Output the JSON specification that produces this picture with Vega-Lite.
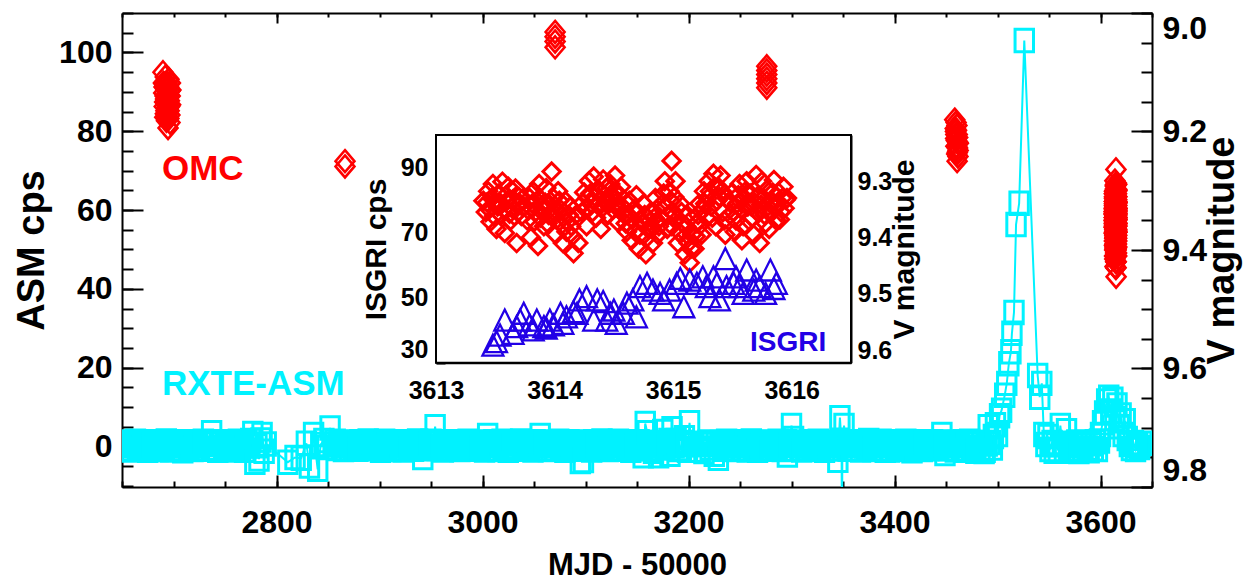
{
  "$schema": "https://vega.github.io/schema/vega-lite/v6.json",
  "width": 1030,
  "height": 474,
  "autosize": {"type": "none"},
  "padding": {"left": 122, "top": 13, "right": 103, "bottom": 93},
  "background": "white",
  "config": {
    "view": {"stroke": null},
    "axis": {"domainColor": "black", "tickColor": "black", "labelColor": "black", "titleColor": "black", "domainWidth": 2, "tickWidth": 2, "grid": false, "zindex": 1, "labelFont": "Liberation Sans", "labelFontWeight": "bold", "titleFont": "Liberation Sans", "titleFontWeight": "bold", "labelOverlap": false, "labelFlush": false}
  },
  "data": {
    "format": {"type": "csv"},
    "values": "mjd,cps\n2651,0.4\n2653,-0.6\n2655,1.1\n2657,0.2\n2659,-0.9\n2661,0.8\n2663,1.3\n2665,-0.3\n2667,0.5\n2669,-0.7\n2671,0.9\n2673,0.0\n2675,-1.0\n2677,1.2\n2679,0.3\n2681,-0.5\n2683,0.7\n2685,-0.8\n2687,1.0\n2689,0.2\n2691,-0.4\n2693,1.4\n2695,0.6\n2697,-0.9\n2699,0.1\n2701,0.9\n2703,-0.6\n2705,1.1\n2707,0.3\n2709,-1.1\n2711,0.7\n2713,1.2\n2715,-0.2\n2717,0.4\n2719,-0.8\n2721,1.0\n2723,0.1\n2725,-0.5\n2727,0.8\n2729,1.3\n2731,-0.7\n2733,0.5\n2735,1.0\n2737,3.5\n2739,-0.4\n2741,0.9\n2743,-1.0\n2745,0.6\n2747,1.2\n2749,-0.3\n2751,0.2\n2753,-0.9\n2755,1.1\n2757,0.4\n2759,-0.6\n2761,0.8\n2763,1.3\n2765,-0.2\n2767,0.5\n2769,-1.0\n2771,0.9\n2773,0.1\n2775,1.5\n2777,3.3\n2779,-4.0\n2781,0.2\n2783,-3.2\n2785,1.6\n2786,3.0\n2788,-1.2\n2790,0.6\n2811,-4.0\n2818,-2.8\n2824,-3.0\n2829,0.8\n2832,-5.0\n2836,3.0\n2840,-5.8\n2843,0.5\n2846,1.5\n2849,-0.3\n2852,4.7\n2855,0.6\n2857,1.3\n2859,-0.5\n2861,0.9\n2863,0.2\n2865,-0.8\n2867,1.1\n2869,0.4\n2871,-0.6\n2873,1.0\n2875,0.0\n2877,0.7\n2879,-0.7\n2881,1.2\n2883,0.3\n2885,-0.4\n2887,0.9\n2889,1.4\n2891,-0.6\n2893,0.5\n2895,1.1\n2897,-0.2\n2899,0.6\n2901,-1.0\n2903,0.8\n2905,1.3\n2907,-0.3\n2909,0.2\n2911,-0.8\n2913,1.0\n2915,0.4\n2917,-0.5\n2919,1.2\n2921,0.1\n2923,-0.9\n2925,0.7\n2927,1.1\n2929,-0.4\n2931,0.3\n2933,-0.7\n2935,0.9\n2937,1.4\n2939,-0.2\n2941,0.5\n2942,-2.8\n2944,1.0\n2946,-0.6\n2948,0.8\n2950,1.3\n2952,0.0\n2954,5.0\n2956,-0.5\n2958,0.9\n2960,0.1\n2962,-0.9\n2964,1.1\n2966,0.4\n2968,-0.6\n2970,1.2\n2972,0.2\n2974,-0.3\n2976,0.9\n2978,-0.8\n2980,1.0\n2982,0.3\n2984,-0.5\n2986,1.3\n2988,0.6\n2990,-0.7\n2992,0.8\n2994,0.0\n2996,1.1\n2998,-0.4\n3000,0.5\n3002,-0.9\n3004,1.0\n3005,2.8\n3007,0.2\n3009,-0.6\n3011,1.2\n3013,0.4\n3015,-0.8\n3017,0.9\n3019,1.3\n3021,-0.2\n3023,0.6\n3025,-1.0\n3027,0.7\n3029,1.1\n3031,0.0\n3033,-0.5\n3035,0.8\n3037,1.4\n3039,-0.7\n3041,0.3\n3043,1.0\n3045,-0.4\n3047,0.5\n3049,-0.9\n3051,1.2\n3053,0.1\n3055,0.7\n3056,2.8\n3058,-0.6\n3060,1.0\n3062,0.3\n3064,-0.8\n3066,1.1\n3068,0.4\n3070,-0.5\n3072,0.9\n3074,1.3\n3076,-0.3\n3078,0.2\n3080,-1.0\n3082,0.8\n3084,1.2\n3086,-0.1\n3088,0.5\n3090,-0.7\n3092,1.0\n3094,0.3\n3095,-3.8\n3097,0.7\n3098,-3.6\n3100,1.1\n3102,-0.4\n3104,0.6\n3106,-0.9\n3108,1.2\n3110,0.2\n3112,-0.6\n3114,0.9\n3116,1.4\n3118,-0.3\n3120,0.4\n3122,-0.8\n3124,1.0\n3126,0.1\n3128,-0.5\n3130,0.8\n3132,1.3\n3134,-0.7\n3136,0.5\n3138,1.1\n3140,-0.2\n3142,0.6\n3144,-1.0\n3146,0.9\n3148,0.3\n3150,-0.6\n3152,1.2\n3154,0.0\n3156,-2.4\n3157,1.0\n3158,5.8\n3160,3.5\n3162,-0.5\n3164,0.7\n3166,-1.2\n3168,1.0\n3170,0.3\n3171,-2.4\n3173,0.9\n3175,3.8\n3177,-0.4\n3179,0.8\n3181,1.5\n3182,-2.0\n3184,4.5\n3186,0.2\n3188,1.5\n3190,-0.8\n3192,-0.5\n3194,1.0\n3196,2.2\n3198,0.4\n3199,-1.0\n3201,6.0\n3203,0.5\n3211,-1.0\n3213,0.8\n3215,-1.3\n3217,0.5\n3219,1.1\n3221,-0.4\n3223,0.9\n3225,-2.0\n3227,0.6\n3229,-3.0\n3231,1.0\n3233,0.2\n3235,-0.7\n3237,1.3\n3239,0.4\n3241,-0.5\n3243,0.9\n3245,-0.8\n3247,1.1\n3249,0.2\n3251,-0.6\n3253,1.2\n3255,0.3\n3257,-0.9\n3259,0.8\n3261,1.4\n3263,-0.2\n3265,0.5\n3267,-1.0\n3269,0.9\n3271,0.1\n3273,-0.5\n3275,1.1\n3277,0.6\n3279,-0.7\n3281,1.0\n3283,0.2\n3285,-0.4\n3287,1.3\n3289,0.4\n3291,-0.8\n3293,0.7\n3295,1.2\n3296,-2.2\n3298,0.3\n3300,5.3\n3302,2.0\n3304,-0.6\n3306,0.9\n3308,0.1\n3310,-0.9\n3312,1.1\n3314,0.4\n3316,-0.5\n3318,1.2\n3320,0.0\n3322,-0.7\n3324,0.8\n3326,1.3\n3328,-0.3\n3330,0.6\n3332,-1.0\n3334,1.0\n3336,0.2\n3338,-0.6\n3340,0.9\n3342,-0.6\n3345,-3.5\n3347,7.3\n3348.6,1.0\n3349,-25\n3349.4,0.5\n3351,5.3\n3353,0.8\n3355,-0.7\n3357,1.1\n3359,0.3\n3361,-0.5\n3363,1.2\n3365,0.4\n3367,-0.9\n3369,0.9\n3371,0.1\n3373,-0.4\n3375,1.5\n3377,0.6\n3379,-0.8\n3381,1.0\n3383,0.2\n3385,-0.6\n3387,1.3\n3389,0.5\n3391,-1.0\n3393,0.7\n3395,-0.9\n3397,1.1\n3399,0.3\n3401,-0.6\n3403,1.2\n3405,0.0\n3407,-0.8\n3409,0.9\n3411,1.3\n3413,-0.4\n3415,0.5\n3417,-1.1\n3419,0.8\n3421,1.2\n3423,-0.2\n3425,0.4\n3427,-0.8\n3429,1.0\n3431,0.1\n3433,-0.6\n3435,0.9\n3437,1.2\n3439,-0.5\n3441,0.6\n3443,-0.3\n3445,1.0\n3446,3.0\n3448,0.2\n3449,-1.8\n3451,0.8\n3453,-0.6\n3455,1.1\n3457,0.3\n3459,-0.9\n3461,1.0\n3463,0.4\n3465,-0.5\n3467,1.2\n3469,-1.0\n3471,0.7\n3473,1.3\n3475,-0.2\n3477,0.5\n3479,-1.2\n3481,0.9\n3483,-0.6\n3485,1.0\n3487,-1.3\n3488,-1.0\n3490,0.6\n3491,5.0\n3493,1.0\n3495,-0.4\n3496,2.5\n3498,5.5\n3500,3.0\n3502,7.8\n3504,9.2\n3507,13.0\n3509,16.0\n3511,21.0\n3513,24.0\n3514,28.7\n3516,34.0\n3518,56.3\n3521,61.7\n3526,103.0\n3539,18.0\n3541,12.5\n3543,16.0\n3545,3.0\n3547,0.5\n3549,2.5\n3551,-0.8\n3553,1.0\n3555,-1.2\n3557,0.4\n3559,-1.0\n3561,5.3\n3563,0.6\n3565,-0.9\n3567,4.0\n3569,0.2\n3571,-1.2\n3573,0.8\n3575,-0.6\n3577,1.1\n3579,-1.3\n3581,0.3\n3583,-0.9\n3585,1.0\n3587,-0.4\n3589,-1.1\n3591,0.7\n3593,-0.6\n3595,1.2\n3597,-0.8\n3599,1.4\n3600,3.0\n3602,6.0\n3604,8.5\n3606,11.5\n3608,12.5\n3610,9.0\n3612,12.0\n3614,7.0\n3616,10.5\n3618,5.0\n3620,8.0\n3622,3.0\n3624,6.5\n3626,2.0\n3628,0.5\n3630,-0.5\n3632,1.0\n3634,-0.8\n3636,0.3\n3638,-0.3\n3640,0.8"
  },
  "datasets": {
    "omc_main": [
      {"mjd":2689.8,"v":9.100},{"mjd":2690.5,"v":9.135},{"mjd":2691.0,"v":9.158},{"mjd":2691.2,"v":9.120},{"mjd":2691.5,"v":9.176},{"mjd":2692.0,"v":9.108},{"mjd":2692.3,"v":9.145},{"mjd":2692.6,"v":9.165},{"mjd":2693.0,"v":9.128},{"mjd":2693.2,"v":9.182},{"mjd":2693.5,"v":9.150},{"mjd":2694.0,"v":9.118},{"mjd":2694.2,"v":9.170},{"mjd":2694.5,"v":9.140},{"mjd":2694.7,"v":9.194},{"mjd":2695.0,"v":9.160},{"mjd":2695.2,"v":9.125},{"mjd":2695.5,"v":9.178},{"mjd":2696.0,"v":9.148},{"mjd":2696.3,"v":9.132},{"mjd":2696.5,"v":9.172},{"mjd":2697.0,"v":9.118},{"mjd":2697.2,"v":9.155},
      {"mjd":2690.8,"v":9.125},{"mjd":2691.8,"v":9.140},{"mjd":2692.8,"v":9.152},{"mjd":2693.8,"v":9.135},{"mjd":2694.8,"v":9.155},{"mjd":2695.8,"v":9.165},{"mjd":2696.8,"v":9.140},{"mjd":2692.4,"v":9.128},{"mjd":2693.4,"v":9.160},{"mjd":2694.4,"v":9.148},{"mjd":2695.4,"v":9.138},{"mjd":2696.2,"v":9.158},{"mjd":2691.4,"v":9.150},{"mjd":2690.2,"v":9.118},{"mjd":2697.5,"v":9.130},{"mjd":2693.6,"v":9.175},{"mjd":2694.6,"v":9.128},{"mjd":2692.1,"v":9.170},{"mjd":2695.6,"v":9.112},{"mjd":2696.6,"v":9.185},
      {"mjd":2866.5,"v":9.250},{"mjd":2866.5,"v":9.259},
      {"mjd":3070.5,"v":9.032},{"mjd":3070.5,"v":9.040},{"mjd":3070.5,"v":9.048},{"mjd":3070.5,"v":9.058},
      {"mjd":3276,"v":9.090},{"mjd":3276,"v":9.097},{"mjd":3276,"v":9.104},{"mjd":3276,"v":9.111},{"mjd":3276,"v":9.118},{"mjd":3276,"v":9.126},
      {"mjd":3458.5,"v":9.180},{"mjd":3459,"v":9.195},{"mjd":3459.5,"v":9.205},{"mjd":3460,"v":9.215},{"mjd":3460.3,"v":9.225},{"mjd":3460.6,"v":9.190},{"mjd":3461,"v":9.235},{"mjd":3461.3,"v":9.210},{"mjd":3461.6,"v":9.242},{"mjd":3462,"v":9.220},{"mjd":3460.8,"v":9.250},{"mjd":3459.8,"v":9.185},{"mjd":3461.2,"v":9.228},
      {"mjd":3459.2,"v":9.200},{"mjd":3460.2,"v":9.198},{"mjd":3460.4,"v":9.238},{"mjd":3461.4,"v":9.218},{"mjd":3459.6,"v":9.225},{"mjd":3460.9,"v":9.205},{"mjd":3461.8,"v":9.232},{"mjd":3459.4,"v":9.212}
    ],
    "omc_inset": [
      {"mjd":3613.40,"v":9.335},{"mjd":3613.42,"v":9.355},{"mjd":3613.44,"v":9.318},{"mjd":3613.46,"v":9.372},{"mjd":3613.48,"v":9.305},{"mjd":3613.50,"v":9.340},{"mjd":3613.51,"v":9.385},{"mjd":3613.53,"v":9.322},{"mjd":3613.55,"v":9.360},{"mjd":3613.56,"v":9.301},{"mjd":3613.58,"v":9.392},{"mjd":3613.60,"v":9.335},{"mjd":3613.61,"v":9.310},{"mjd":3613.63,"v":9.370},{"mjd":3613.64,"v":9.348},{"mjd":3613.67,"v":9.313},{"mjd":3613.68,"v":9.410},{"mjd":3613.70,"v":9.328},{"mjd":3613.72,"v":9.362},{"mjd":3613.74,"v":9.345},
      {"mjd":3613.43,"v":9.338},{"mjd":3613.45,"v":9.350},{"mjd":3613.47,"v":9.330},{"mjd":3613.49,"v":9.362},{"mjd":3613.52,"v":9.345},{"mjd":3613.54,"v":9.338},{"mjd":3613.57,"v":9.350},{"mjd":3613.59,"v":9.325},{"mjd":3613.62,"v":9.358},{"mjd":3613.65,"v":9.332},{"mjd":3613.66,"v":9.362},{"mjd":3613.69,"v":9.345},{"mjd":3613.71,"v":9.340},
      {"mjd":3613.77,"v":9.370},{"mjd":3613.79,"v":9.330},{"mjd":3613.80,"v":9.400},{"mjd":3613.82,"v":9.318},{"mjd":3613.84,"v":9.355},{"mjd":3613.86,"v":9.415},{"mjd":3613.87,"v":9.305},{"mjd":3613.89,"v":9.345},{"mjd":3613.91,"v":9.380},{"mjd":3613.93,"v":9.312},{"mjd":3613.95,"v":9.360},{"mjd":3613.975,"v":9.283},{"mjd":3613.99,"v":9.330},{"mjd":3614.01,"v":9.395},{"mjd":3614.03,"v":9.318},{"mjd":3614.05,"v":9.350},{"mjd":3614.07,"v":9.410},{"mjd":3614.09,"v":9.335},{"mjd":3614.11,"v":9.372},{"mjd":3614.13,"v":9.345},{"mjd":3614.15,"v":9.398},{"mjd":3614.16,"v":9.428},{"mjd":3614.18,"v":9.360},{"mjd":3614.20,"v":9.410},
      {"mjd":3613.78,"v":9.352},{"mjd":3613.81,"v":9.340},{"mjd":3613.83,"v":9.372},{"mjd":3613.85,"v":9.335},{"mjd":3613.88,"v":9.365},{"mjd":3613.90,"v":9.350},{"mjd":3613.92,"v":9.338},{"mjd":3613.94,"v":9.375},{"mjd":3613.96,"v":9.342},{"mjd":3613.98,"v":9.360},{"mjd":3614.00,"v":9.350},{"mjd":3614.02,"v":9.368},{"mjd":3614.04,"v":9.335},{"mjd":3614.06,"v":9.378},{"mjd":3614.08,"v":9.355},{"mjd":3614.10,"v":9.390},{"mjd":3614.12,"v":9.360},{"mjd":3614.14,"v":9.380},
      {"mjd":3614.23,"v":9.355},{"mjd":3614.25,"v":9.320},{"mjd":3614.27,"v":9.380},{"mjd":3614.29,"v":9.300},{"mjd":3614.31,"v":9.340},{"mjd":3614.33,"v":9.292},{"mjd":3614.35,"v":9.365},{"mjd":3614.37,"v":9.315},{"mjd":3614.39,"v":9.385},{"mjd":3614.41,"v":9.297},{"mjd":3614.43,"v":9.338},{"mjd":3614.45,"v":9.360},{"mjd":3614.47,"v":9.305},{"mjd":3614.49,"v":9.350},{"mjd":3614.51,"v":9.290},{"mjd":3614.53,"v":9.372},{"mjd":3614.55,"v":9.325},{"mjd":3614.57,"v":9.345},
      {"mjd":3614.24,"v":9.338},{"mjd":3614.26,"v":9.350},{"mjd":3614.28,"v":9.330},{"mjd":3614.30,"v":9.322},{"mjd":3614.32,"v":9.355},{"mjd":3614.34,"v":9.328},{"mjd":3614.36,"v":9.342},{"mjd":3614.38,"v":9.318},{"mjd":3614.40,"v":9.348},{"mjd":3614.42,"v":9.325},{"mjd":3614.44,"v":9.312},{"mjd":3614.46,"v":9.340},{"mjd":3614.48,"v":9.328},{"mjd":3614.50,"v":9.318},{"mjd":3614.52,"v":9.338},{"mjd":3614.54,"v":9.350},{"mjd":3614.56,"v":9.310},
      {"mjd":3614.59,"v":9.360},{"mjd":3614.61,"v":9.390},{"mjd":3614.63,"v":9.335},{"mjd":3614.65,"v":9.405},{"mjd":3614.67,"v":9.350},{"mjd":3614.69,"v":9.325},{"mjd":3614.71,"v":9.420},{"mjd":3614.73,"v":9.370},{"mjd":3614.75,"v":9.340},{"mjd":3614.77,"v":9.430},{"mjd":3614.79,"v":9.385},{"mjd":3614.81,"v":9.355},{"mjd":3614.83,"v":9.410},{"mjd":3614.85,"v":9.330},{"mjd":3614.87,"v":9.395},{"mjd":3614.89,"v":9.365},
      {"mjd":3614.60,"v":9.375},{"mjd":3614.62,"v":9.360},{"mjd":3614.64,"v":9.380},{"mjd":3614.66,"v":9.368},{"mjd":3614.68,"v":9.390},{"mjd":3614.70,"v":9.355},{"mjd":3614.72,"v":9.395},{"mjd":3614.74,"v":9.375},{"mjd":3614.76,"v":9.360},{"mjd":3614.78,"v":9.400},{"mjd":3614.80,"v":9.372},{"mjd":3614.82,"v":9.385},{"mjd":3614.84,"v":9.365},{"mjd":3614.86,"v":9.350},{"mjd":3614.88,"v":9.380},
      {"mjd":3614.91,"v":9.340},{"mjd":3614.93,"v":9.300},{"mjd":3614.95,"v":9.385},{"mjd":3614.97,"v":9.318},{"mjd":3614.987,"v":9.264},{"mjd":3615.00,"v":9.355},{"mjd":3615.02,"v":9.300},{"mjd":3615.04,"v":9.410},{"mjd":3615.06,"v":9.340},{"mjd":3615.08,"v":9.375},{"mjd":3615.10,"v":9.430},{"mjd":3615.12,"v":9.360},{"mjd":3615.14,"v":9.445},{"mjd":3615.16,"v":9.395},
      {"mjd":3614.92,"v":9.322},{"mjd":3614.94,"v":9.345},{"mjd":3614.96,"v":9.360},{"mjd":3614.98,"v":9.335},{"mjd":3614.99,"v":9.380},{"mjd":3615.01,"v":9.328},{"mjd":3615.03,"v":9.368},{"mjd":3615.05,"v":9.390},{"mjd":3615.07,"v":9.355},{"mjd":3615.09,"v":9.400},{"mjd":3615.11,"v":9.380},{"mjd":3615.13,"v":9.410},{"mjd":3615.15,"v":9.420},
      {"mjd":3615.18,"v":9.420},{"mjd":3615.20,"v":9.375},{"mjd":3615.22,"v":9.340},{"mjd":3615.24,"v":9.395},{"mjd":3615.26,"v":9.318},{"mjd":3615.28,"v":9.365},{"mjd":3615.30,"v":9.300},{"mjd":3615.32,"v":9.345},{"mjd":3615.34,"v":9.287},{"mjd":3615.36,"v":9.380},{"mjd":3615.38,"v":9.310},{"mjd":3615.40,"v":9.290},{"mjd":3615.42,"v":9.355},{"mjd":3615.44,"v":9.395},{"mjd":3615.45,"v":9.330},
      {"mjd":3615.19,"v":9.398},{"mjd":3615.21,"v":9.360},{"mjd":3615.23,"v":9.378},{"mjd":3615.25,"v":9.350},{"mjd":3615.27,"v":9.340},{"mjd":3615.29,"v":9.330},{"mjd":3615.31,"v":9.318},{"mjd":3615.33,"v":9.365},{"mjd":3615.35,"v":9.310},{"mjd":3615.37,"v":9.335},{"mjd":3615.39,"v":9.328},{"mjd":3615.41,"v":9.318},{"mjd":3615.43,"v":9.370},
      {"mjd":3615.48,"v":9.360},{"mjd":3615.50,"v":9.320},{"mjd":3615.52,"v":9.390},{"mjd":3615.54,"v":9.340},{"mjd":3615.56,"v":9.305},{"mjd":3615.58,"v":9.405},{"mjd":3615.60,"v":9.330},{"mjd":3615.62,"v":9.300},{"mjd":3615.64,"v":9.370},{"mjd":3615.66,"v":9.345},{"mjd":3615.68,"v":9.395},{"mjd":3615.70,"v":9.289},{"mjd":3615.72,"v":9.325},{"mjd":3615.73,"v":9.410},{"mjd":3615.75,"v":9.300},{"mjd":3615.77,"v":9.360},{"mjd":3615.79,"v":9.315},{"mjd":3615.81,"v":9.385},{"mjd":3615.83,"v":9.335},{"mjd":3615.85,"v":9.298},{"mjd":3615.87,"v":9.370},{"mjd":3615.89,"v":9.320},{"mjd":3615.91,"v":9.355},{"mjd":3615.93,"v":9.310},{"mjd":3615.95,"v":9.333},
      {"mjd":3615.49,"v":9.340},{"mjd":3615.51,"v":9.355},{"mjd":3615.53,"v":9.370},{"mjd":3615.55,"v":9.325},{"mjd":3615.57,"v":9.350},{"mjd":3615.59,"v":9.380},{"mjd":3615.61,"v":9.318},{"mjd":3615.63,"v":9.345},{"mjd":3615.65,"v":9.322},{"mjd":3615.67,"v":9.365},{"mjd":3615.69,"v":9.338},{"mjd":3615.71,"v":9.355},{"mjd":3615.74,"v":9.342},{"mjd":3615.76,"v":9.330},{"mjd":3615.78,"v":9.375},{"mjd":3615.80,"v":9.345},{"mjd":3615.82,"v":9.358},{"mjd":3615.84,"v":9.320},{"mjd":3615.86,"v":9.348},{"mjd":3615.88,"v":9.338},{"mjd":3615.90,"v":9.368},{"mjd":3615.92,"v":9.330},{"mjd":3615.94,"v":9.348},{"mjd":3615.96,"v":9.330}
    ],
    "isgri": [
      {"mjd":3613.48,"cps":35.4},{"mjd":3613.51,"cps":36.5},{"mjd":3613.54,"cps":38.5},{"mjd":3613.58,"cps":43.1},{"mjd":3613.65,"cps":39.0},{"mjd":3613.68,"cps":41.1},{"mjd":3613.71,"cps":43.1},{"mjd":3613.74,"cps":45.2},{"mjd":3613.79,"cps":41.6},{"mjd":3613.82,"cps":40.1},{"mjd":3613.85,"cps":43.1},{"mjd":3613.91,"cps":41.1},{"mjd":3613.93,"cps":40.6},{"mjd":3613.96,"cps":43.1},{"mjd":3613.99,"cps":41.6},{"mjd":3614.05,"cps":45.2},{"mjd":3614.07,"cps":42.1},{"mjd":3614.10,"cps":44.1},{"mjd":3614.16,"cps":45.7},{"mjd":3614.19,"cps":45.2},{"mjd":3614.21,"cps":49.3},{"mjd":3614.27,"cps":50.3},{"mjd":3614.33,"cps":43.1},{"mjd":3614.36,"cps":49.3},{"mjd":3614.41,"cps":48.8},{"mjd":3614.44,"cps":43.1},{"mjd":3614.47,"cps":45.2},{"mjd":3614.50,"cps":46.2},{"mjd":3614.52,"cps":42.1},{"mjd":3614.58,"cps":45.2},{"mjd":3614.61,"cps":48.3},{"mjd":3614.66,"cps":49.3},{"mjd":3614.69,"cps":44.1},{"mjd":3614.72,"cps":53.4},{"mjd":3614.78,"cps":54.4},{"mjd":3614.83,"cps":52.3},{"mjd":3614.89,"cps":51.3},{"mjd":3614.92,"cps":49.3},{"mjd":3614.97,"cps":52.3},{"mjd":3615.03,"cps":54.4},{"mjd":3615.06,"cps":55.9},{"mjd":3615.09,"cps":47.2},{"mjd":3615.14,"cps":55.4},{"mjd":3615.20,"cps":54.4},{"mjd":3615.25,"cps":56.4},{"mjd":3615.28,"cps":53.4},{"mjd":3615.31,"cps":50.3},{"mjd":3615.34,"cps":56.4},{"mjd":3615.37,"cps":54.4},{"mjd":3615.39,"cps":49.3},{"mjd":3615.44,"cps":62.0},{"mjd":3615.45,"cps":53.4},{"mjd":3615.51,"cps":54.4},{"mjd":3615.53,"cps":56.4},{"mjd":3615.56,"cps":53.4},{"mjd":3615.59,"cps":51.3},{"mjd":3615.62,"cps":58.5},{"mjd":3615.68,"cps":52.3},{"mjd":3615.70,"cps":55.4},{"mjd":3615.73,"cps":53.4},{"mjd":3615.78,"cps":51.3},{"mjd":3615.82,"cps":58.5},{"mjd":3615.85,"cps":52.8},{"mjd":3615.87,"cps":54.4}
    ]
  },
  "layer": [
    {
      "mark": {"type": "line", "color": "#00f2ff", "strokeWidth": 2, "clip": true},
      "encoding": {
        "x": {"field": "mjd", "type": "quantitative", "scale": {"domain": [2650, 3650], "nice": false, "zero": false},
              "axis": {"orient": "bottom", "values": [2800, 3000, 3200, 3400, 3600], "format": "d", "tickSize": -12, "labelPadding": 32, "labelFontSize": 32, "title": "MJD - 50000", "titleFontSize": 31, "titleX": 515, "titleY": 87, "titleBaseline": "alphabetic"}},
        "y": {"field": "cps", "type": "quantitative", "scale": {"domain": [-10.3, 110], "nice": false, "zero": false},
              "axis": {"orient": "left", "values": [0, 20, 40, 60, 80, 100], "tickSize": -21, "labelPadding": 31, "labelFontSize": 32, "title": "ASM cps", "titleFontSize": 38, "titleAngle": 270, "titleX": -79, "titleY": 237, "titleBaseline": "alphabetic"}}
      }
    },
    {
      "mark": {"type": "point", "shape": "M-0.82,-1H0.82V1H-0.82Z", "filled": false, "color": "#00f2ff", "strokeWidth": 3, "size": 506, "opacity": 1, "clip": true},
      "encoding": {
        "x": {"field": "mjd", "type": "quantitative", "scale": {"domain": [2650, 3650], "nice": false, "zero": false},
              "axis": {"orient": "bottom", "values": [2650,2700,2750,2800,2850,2900,2950,3000,3050,3100,3150,3200,3250,3300,3350,3400,3450,3500,3550,3600,3650], "tickSize": -6, "labels": false, "domain": false, "title": null}},
        "y": {"field": "cps", "type": "quantitative", "scale": {"domain": [-10.3, 110], "nice": false, "zero": false},
              "axis": {"orient": "left", "values": [-10,-5,0,5,10,15,20,25,30,35,40,45,50,55,60,65,70,75,80,85,90,95,100,105,110], "tickSize": -11, "labels": false, "domain": false, "title": null}}
      }
    },
    {
      "data": {"name": "omc_main"},
      "mark": {"type": "point", "shape": "M0,-1L0.86,0L0,1L-0.86,0Z", "filled": false, "color": "#ff0000", "strokeWidth": 2.6, "size": 484, "opacity": 1},
      "encoding": {
        "x": {"field": "mjd", "type": "quantitative", "scale": {"domain": [2650, 3650], "nice": false, "zero": false},
              "axis": {"orient": "top", "values": [2800, 3000, 3200, 3400, 3600], "tickSize": -10, "labels": false, "title": null}},
        "y": {"field": "v", "type": "quantitative", "scale": {"domain": [9.0, 9.8], "reverse": true, "nice": false, "zero": false},
              "axis": {"orient": "right", "values": [9.0, 9.2, 9.4, 9.6, 9.8], "format": ".1f", "tickSize": -21, "labelPadding": 31, "labelFontSize": 32, "labelFlush": true, "title": "V magnitude", "titleFontSize": 38, "titleAngle": 270, "titleX": 81, "titleY": 237, "titleBaseline": "alphabetic"}}
      }
    },
    {
      "data": {"name": "omc_inset"},
      "mark": {"type": "point", "shape": "M0,-1L0.86,0L0,1L-0.86,0Z", "filled": false, "color": "#ff0000", "strokeWidth": 2.6, "size": 484, "opacity": 1},
      "encoding": {
        "x": {"field": "mjd", "type": "quantitative", "scale": {"domain": [2650, 3650], "nice": false, "zero": false},
              "axis": {"orient": "top", "values": [2650,2700,2750,2800,2850,2900,2950,3000,3050,3100,3150,3200,3250,3300,3350,3400,3450,3500,3550,3600,3650], "tickSize": -4, "labels": false, "domain": false, "title": null}},
        "y": {"field": "v", "type": "quantitative", "scale": {"domain": [9.0, 9.8], "reverse": true, "nice": false, "zero": false},
              "axis": {"orient": "right", "values": [9.0,9.05,9.1,9.15,9.2,9.25,9.3,9.35,9.4,9.45,9.5,9.55,9.6,9.65,9.7,9.75,9.8], "tickSize": -11, "labels": false, "domain": false, "title": null}}
      }
    },
    {
      "data": {"values": [{"x1": 3613, "x2": 3616.5, "y1": 30, "y2": 100}]},
      "mark": {"type": "rect", "fill": "white", "stroke": "black", "strokeWidth": 2},
      "encoding": {
        "x": {"field": "x1", "type": "quantitative", "scale": {"domain": [3613, 3616.5], "range": [314, 729], "nice": false, "zero": false},
              "axis": {"orient": "bottom", "offset": -124.3, "values": [3613, 3614, 3615, 3616], "format": "d", "tickSize": -5, "labelPadding": 21, "labelFontSize": 25, "title": null}},
        "x2": {"field": "x2"},
        "y": {"field": "y1", "type": "quantitative", "scale": {"domain": [30, 100], "range": [349.7, 122], "nice": false, "zero": false},
              "axis": {"orient": "left", "offset": -314, "values": [30, 50, 70, 90], "tickSize": -9, "labelPadding": 17, "labelFontSize": 25, "labelFlush": true, "title": "ISGRI cps", "titleFontSize": 30, "titleAngle": 270, "titleX": -51, "titleY": 236, "titleBaseline": "alphabetic"}},
        "y2": {"field": "y2"}
      }
    },
    {
      "data": {"name": "omc_inset"},
      "mark": {"type": "point", "shape": "diamond", "filled": false, "color": "#ff0000", "strokeWidth": 3, "size": 300, "opacity": 1},
      "encoding": {
        "x": {"field": "mjd", "type": "quantitative", "scale": {"domain": [3613, 3616.5], "range": [314, 729], "nice": false, "zero": false}, "axis": null},
        "y": {"field": "v", "type": "quantitative", "scale": {"domain": [9.218, 9.6225], "range": [122, 349.7], "nice": false, "zero": false},
              "axis": {"orient": "right", "offset": -301, "values": [9.3, 9.4, 9.5, 9.6], "format": ".1f", "tickSize": -10, "labelPadding": 16, "labelFontSize": 25, "title": "V magnitude", "titleFontSize": 30, "titleAngle": 270, "titleX": 62, "titleY": 236, "titleBaseline": "alphabetic"}}
      }
    },
    {
      "data": {"values": [{"v": 9.4}]},
      "mark": {"type": "point", "opacity": 0},
      "encoding": {
        "y": {"field": "v", "type": "quantitative", "scale": {"domain": [9.218, 9.6225], "range": [122, 349.7], "nice": false, "zero": false},
              "axis": {"orient": "right", "offset": -301, "values": [9.22,9.23,9.24,9.25,9.26,9.27,9.28,9.29,9.3,9.31,9.32,9.33,9.34,9.35,9.36,9.37,9.38,9.39,9.4,9.41,9.42,9.43,9.44,9.45,9.46,9.47,9.48,9.49,9.5,9.51,9.52,9.53,9.54,9.55,9.56,9.57,9.58,9.59,9.6,9.61,9.62], "tickSize": -6, "labels": false, "domain": false, "title": null}}
      }
    },
    {
      "data": {"name": "isgri"},
      "mark": {"type": "point", "shape": "M0,-1L1,1L-1,1Z", "filled": false, "color": "#2200e6", "strokeWidth": 2.3, "size": 440, "opacity": 1},
      "encoding": {
        "x": {"field": "mjd", "type": "quantitative", "scale": {"domain": [3613, 3616.5], "range": [314, 729], "nice": false, "zero": false}, "axis": null},
        "y": {"field": "cps", "type": "quantitative", "scale": {"domain": [30, 100], "range": [349.7, 122], "nice": false, "zero": false}, "axis": null}
      }
    },
    {
      "data": {"values": [{"label": "OMC", "mjd": 2688.8, "cps": 67.6}]},
      "mark": {"type": "text", "align": "left", "baseline": "alphabetic", "font": "Liberation Sans", "fontWeight": "bold", "fontSize": 35, "color": "#ff0000"},
      "encoding": {
        "x": {"field": "mjd", "type": "quantitative", "scale": {"domain": [2650, 3650], "nice": false, "zero": false}, "axis": null},
        "y": {"field": "cps", "type": "quantitative", "scale": {"domain": [-10.3, 110], "nice": false, "zero": false}, "axis": null},
        "text": {"field": "label"}
      }
    },
    {
      "data": {"values": [{"label": "RXTE-ASM", "mjd": 2688.8, "cps": 13.0}]},
      "mark": {"type": "text", "align": "left", "baseline": "alphabetic", "font": "Liberation Sans", "fontWeight": "bold", "fontSize": 35, "color": "#00f2ff"},
      "encoding": {
        "x": {"field": "mjd", "type": "quantitative", "scale": {"domain": [2650, 3650], "nice": false, "zero": false}, "axis": null},
        "y": {"field": "cps", "type": "quantitative", "scale": {"domain": [-10.3, 110], "nice": false, "zero": false}, "axis": null},
        "text": {"field": "label"}
      }
    },
    {
      "data": {"values": [{"label": "ISGRI", "mjd": 3615.648, "cps": 33.7}]},
      "mark": {"type": "text", "align": "left", "baseline": "alphabetic", "font": "Liberation Sans", "fontWeight": "bold", "fontSize": 28, "color": "#2200e6"},
      "encoding": {
        "x": {"field": "mjd", "type": "quantitative", "scale": {"domain": [3613, 3616.5], "range": [314, 729], "nice": false, "zero": false}, "axis": null},
        "y": {"field": "cps", "type": "quantitative", "scale": {"domain": [30, 100], "range": [349.7, 122], "nice": false, "zero": false}, "axis": null},
        "text": {"field": "label"}
      }
    }
  ],
  "resolve": {"scale": {"x": "independent", "y": "independent"}, "axis": {"x": "independent", "y": "independent"}}
}
